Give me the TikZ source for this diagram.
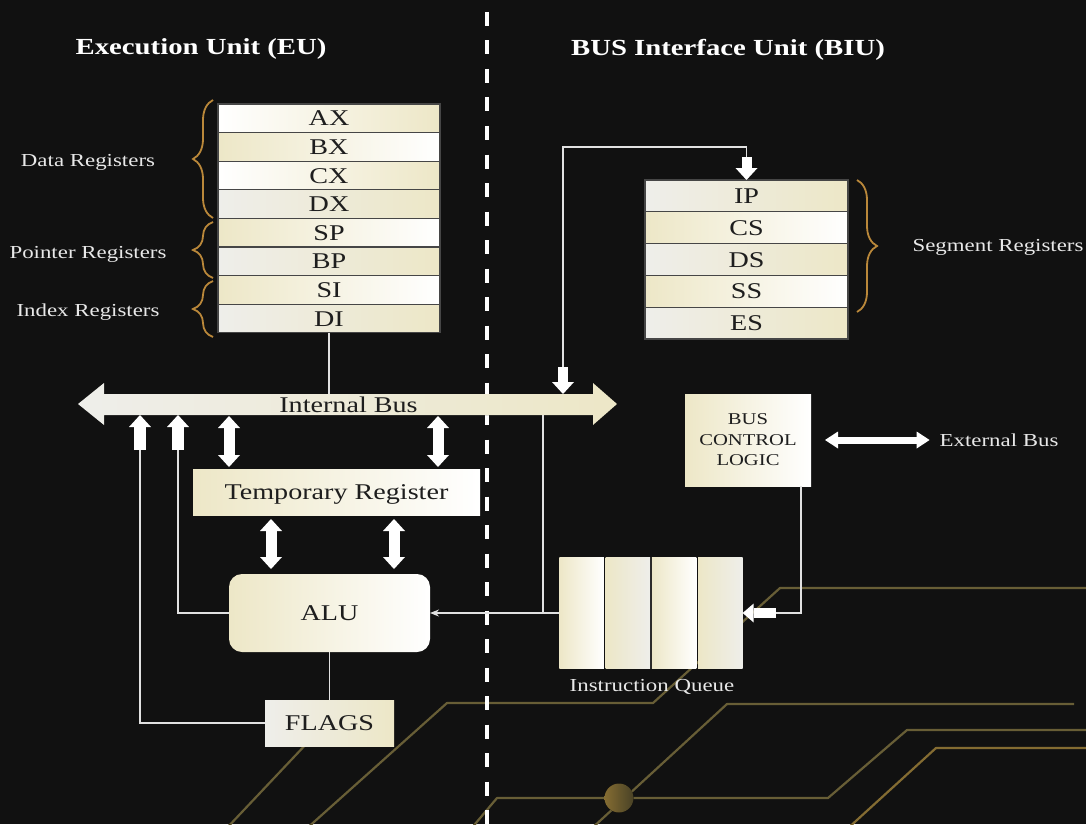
\documentclass[tikz,border=0pt]{standalone}
\usepackage{fontspec}
\setmainfont{Liberation Serif}[FakeStretch=1.25]
\usetikzlibrary{arrows.meta, decorations.pathreplacing, positioning}

\definecolor{bgBlack}{RGB}{17,17,17}
\definecolor{cream}{RGB}{237,231,199}
\definecolor{lGray}{RGB}{238,238,234}
\definecolor{sepGray}{RGB}{70,70,70}
\definecolor{boxText}{RGB}{30,30,30}
\definecolor{sideWhite}{RGB}{232,232,232}
\definecolor{braceGold}{RGB}{186,136,58}
\definecolor{traceGold}{RGB}{104,94,54}
\definecolor{traceAmber}{RGB}{132,108,50}
\definecolor{wireWhite}{RGB}{225,225,225}

\newcommand{\regFont}{\fontsize{22.5}{26}\selectfont}
\newcommand{\sideFont}{\fontsize{18.3}{22}\selectfont}
\newcommand{\titleFont}{\bfseries\fontsize{23}{27}\selectfont}
\newcommand{\bclFont}{\fontsize{16.5}{20.5}\selectfont}

\begin{document}
\begin{tikzpicture}[x=1pt, y=-1pt, >=Stealth,
    every node/.style={inner sep=0pt, outer sep=0pt},
    box/.style={font=\regFont, text=boxText, text height=15pt, text depth=0pt},
    reg/.style={box, draw=sepGray, line width=1.3pt, minimum width=222pt,
      minimum height=28.6pt},
    seg/.style={reg, minimum width=203pt, minimum height=31.8pt},
    bclBox/.style={font=\bclFont, text=boxText, align=center},
    shadeWC/.style={left color=white, right color=cream},
    shadeCW/.style={left color=cream, right color=white},
    shadeGC/.style={left color=lGray, right color=cream},
    shadeCG/.style={left color=cream, right color=lGray},
    cell/.style={minimum width=44.5pt, minimum height=111pt},
    sideText/.style={font=\sideFont, text=sideWhite, text height=12.2pt, text depth=0pt},
    unitTitle/.style={font=\titleFont, text=white, text height=15.3pt, text depth=0pt},
    wire/.style={draw=wireWhite, line width=1.3pt},
    fatArrow/.style={draw=white, line width=11pt,
      -{Triangle[length=12pt, width=22pt, line width=0pt]}},
    fatBoth/.style={fatArrow,
      {Triangle[length=12pt, width=22pt, line width=0pt]}-{Triangle[length=12pt, width=22pt, line width=0pt]}},
    extArrow/.style={draw=white, line width=7pt,
      {Triangle[length=13pt, width=17pt, line width=0pt]}-{Triangle[length=13pt, width=17pt, line width=0pt]}},
    regBrace/.style={draw=braceGold, line width=1.8pt,
      decorate, decoration={brace, amplitude=20pt}},
    trace/.style={draw=traceGold, line width=2.2pt, line join=round},
    divider/.style={draw=white, line width=4pt, dash pattern=on 14pt off 14.5pt}
  ]

    % --- 1. 背景と回路パターン ---
    \useasboundingbox[fill=bgBlack] (0,0) rectangle (1086,824);
    \draw[trace] (305,830) -- (447,703) -- (653,703) -- (780,588) -- (1090,588);
    \draw[trace] (470,830) -- (497,798) -- (828,798) -- (907,730) -- (1090,730);
    \draw[trace] (590,830) -- (727,704) -- (1074,704);
    \draw[trace, draw=traceAmber] (846,830) -- (936,748) -- (1090,748);
    \draw[trace] (225,830) -- (310,740);
    \fill[left color=traceAmber, right color=traceGold!70!black] (619,798) circle (14.5);

    % --- 2. 見出しと区切り線 ---
    \node[unitTitle] (euTitle)  at (201,47) {Execution Unit (EU)};
    \node[unitTitle] (biuTitle) at (728,48) {BUS Interface Unit (BIU)};
    \draw[divider] (487,12) -- (487,824);

    % --- 3. EU のレジスタ群 ---
    \node[reg, shadeWC] (AX) at (329,118.3) {AX};
    \node[reg, shadeCW, below=0pt of AX] (BX) {BX};
    \node[reg, shadeWC, below=0pt of BX] (CX) {CX};
    \node[reg, shadeGC, below=0pt of CX] (DX) {DX};
    \node[reg, shadeCW, below=0pt of DX] (SP) {SP};
    \node[reg, shadeGC, below=0pt of SP] (BP) {BP};
    \node[reg, shadeCW, below=0pt of BP] (SI) {SI};
    \node[reg, shadeGC, below=0pt of SI] (DI) {DI};

    % 左側の括弧とラベル
    \draw[regBrace] (213,218) -- (213,100);
    \draw[regBrace] (213,278) -- (213,222);
    \draw[regBrace] (213,337) -- (213,281);
    \node[sideText] (dataLbl) at (88,160) {Data Registers};
    \node[sideText] (ptrLbl)  at (88,252) {Pointer Registers};
    \node[sideText] (idxLbl)  at (88,310) {Index Registers};

    % --- 4. BIU のセグメントレジスタ ---
    \node[seg, shadeGC] (IP) at (746.5,195.9) {IP};
    \node[seg, shadeCW, below=0pt of IP] (CS) {CS};
    \node[seg, shadeGC, below=0pt of CS] (DS) {DS};
    \node[seg, shadeCW, below=0pt of DS] (SS) {SS};
    \node[seg, shadeGC, below=0pt of SS] (ES) {ES};
    \draw[regBrace] (857,180) -- (857,312);
    \node[sideText] (segLbl) at (998,245) {Segment Registers};

    % --- 5. 内部バス ---
    \fill[shadeGC] (78,404) -- (104,383) -- (104,394) -- (593,394) -- (593,383)
      -- (617,404) -- (593,425) -- (593,415) -- (104,415) -- (104,425) -- cycle;
    \node[box, minimum width=489pt, minimum height=21pt] (bus) at (348.5,404.5) {Internal Bus};
    \draw[wire] (DI.south) -- (DI.south |- bus.north);

    % --- 6. 一時レジスタ・ALU・フラグ ---
    \node[box, shadeCW, minimum width=287pt, minimum height=46pt] (TEMP) at (336.5,492) {Temporary Register};
    \node[box, shadeCW, rounded corners=13pt, minimum width=201pt, minimum height=78pt] (ALU) at (329.5,613) {ALU};
    \node[box, shadeGC, minimum width=129pt, minimum height=46pt] (FLAGS) at (329.5,723) {FLAGS};
    \draw[wire] (ALU.south) -- (FLAGS.north);

    % バスからの太矢印
    \coordinate (upA) at (140,450);
    \coordinate (upB) at (178,450);
    \draw[wire] (upA) |- (FLAGS.west);
    \draw[wire] (upB) |- (ALU.west);
    \draw[fatArrow, line width=12pt] (upA) -- (upA |- bus.south);
    \draw[fatArrow, line width=12pt] (upB) -- (upB |- bus.south);

    \coordinate (tA) at (229,0);
    \coordinate (tB) at (438,0);
    \coordinate (aA) at (271,0);
    \coordinate (aB) at (394,0);
    \draw[fatBoth, shorten <=1pt, shorten >=2pt] (tA |- bus.south) -- (tA |- TEMP.north);
    \draw[fatBoth, shorten <=1pt, shorten >=2pt] (tB |- bus.south) -- (tB |- TEMP.north);
    \draw[fatBoth, shorten <=4pt, shorten >=5pt] (aA |- TEMP.south) -- (aA |- ALU.north);
    \draw[fatBoth, shorten <=4pt, shorten >=5pt] (aB |- TEMP.south) -- (aB |- ALU.north);

    % --- 7. 命令キュー・バス制御 ---
    \node[cell, shadeCW] (IQ1) at (581.5,613) {};
    \node[cell, shadeCG, right=1.8pt of IQ1] (IQ2) {};
    \node[cell, shadeCW, right=1.8pt of IQ2] (IQ3) {};
    \node[cell, shadeCG, right=1.8pt of IQ3] (IQ4) {};
    \node[sideText] (iqLbl) at (652,685) {Instruction Queue};

    \node[bclBox, shadeCW, minimum width=126pt, minimum height=92pt]
      (BCL) at (748,440) {BUS\\CONTROL\\LOGIC};
    \node[sideText] (extLbl) at (999,440) {External Bus};
    \draw[extArrow] ([xshift=14pt]BCL.east) -- ([xshift=-10pt]extLbl.west);

    % 命令キューから ALU へ
    \coordinate (busTap) at (543,0);
    \draw[wire] (busTap |- bus.south) -- (busTap |- ALU.east);
    \draw[wire, -{Stealth[length=9pt, width=7pt]}] (IQ1.west) -- (ALU.east);

    % バス制御から命令キューへ
    \coordinate (bclOut) at (801,0);
    \coordinate (iqIn)   at (776,613);
    \draw[wire] (bclOut |- BCL.south) |- (iqIn);
    \draw[fatArrow, line width=10pt, -{Triangle[length=11pt, width=19pt, line width=0pt]}] (iqIn) -- (IQ4.east);

    % IP への経路
    \coordinate (feedBus) at (563,367);
    \coordinate (feedTop) at (563,147);
    \coordinate (ipFeed)  at (746.5,157);
    \draw[wire] (feedBus) -- (feedTop) -| (ipFeed);
    \draw[fatArrow, line width=10pt] (feedBus) -- (feedBus |- bus.north);
    \draw[fatArrow, line width=10pt] (ipFeed) -- (IP.north);

  \end{tikzpicture}
\end{document}
